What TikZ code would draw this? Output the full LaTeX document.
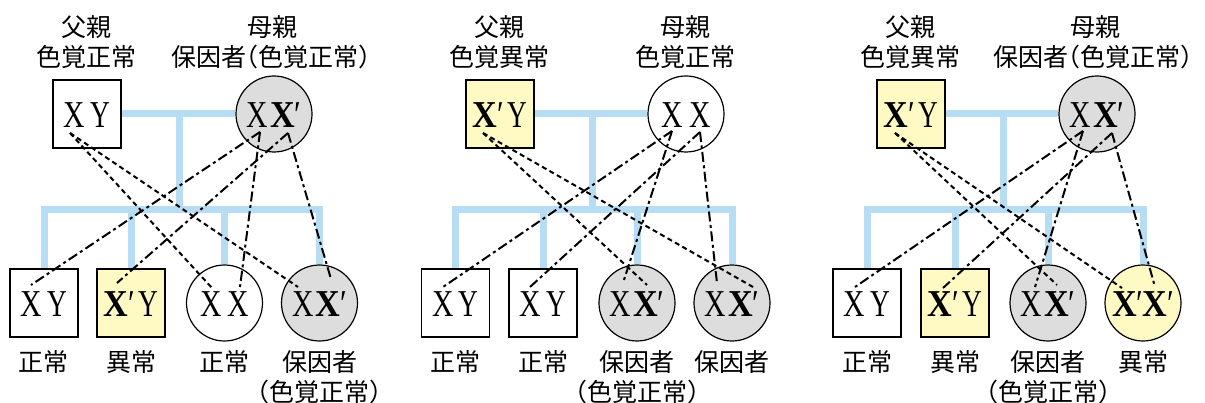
\documentclass[tikz,border=0pt]{standalone}
\usepackage{fontspec}
\usepackage{graphicx}
\usetikzlibrary{backgrounds}
\setmainfont{Liberation Serif}
\newfontfamily\jpfont[CharacterWidth=AlternateHalf]{Noto Sans CJK JP}
\definecolor{lineblue}{RGB}{183,221,245}
\definecolor{fillyellow}{RGB}{255,249,196}
\definecolor{fillgray}{RGB}{221,221,221}
\newcommand\gX{\scalebox{0.78}[1]{X}}
\newcommand\gY{\scalebox{0.72}[1]{Y}}
\newcommand\gB{\scalebox{0.9}[1]{\textbf{X}}\scalebox{0.8}[1]{′}}
\tikzset{
  gene/.style={inner sep=0pt, line width=1.2pt, draw=black, font=\fontsize{38}{40}\selectfont, text height=28pt, text depth=0pt},
  sq/.style={gene, rectangle, minimum size=68pt, fill=white},
  circ/.style={gene, circle, minimum size=76pt, fill=white},
  blueline/.style={line width=7pt, draw=lineblue, line join=miter},
  fline/.style={line width=2pt, dash pattern=on 5pt off 3.5pt},
  mline/.style={line width=2pt, dash pattern=on 10pt off 3.5pt on 3pt off 3.5pt},
  lbl/.style={font=\jpfont\fontsize{25}{30}\selectfont, inner sep=0pt, anchor=base}
}
\begin{document}
\begin{tikzpicture}[x=1pt,y=-1pt]
\useasboundingbox (0,0) rectangle (1205,403);

% ---------------- Panel 1 ----------------
\node[sq] (p1f) at (87,114) {\gX\kern5pt\gY};
\node[circ, fill=fillgray] (p1m) at (274,114) {\gX\kern2pt\gB};
\node[sq] (p1c1) at (44,303) {\gX\kern5pt\gY};
\node[sq, fill=fillyellow] (p1c2) at (131,303) {\gB\kern3pt\gY};
\node[circ] (p1c3) at (224.5,303) {\gX\kern6pt\gX};
\node[circ, fill=fillgray] (p1c4) at (319.5,303) {\gX\kern2pt\gB};
\coordinate (p1top) at (179,114);
\coordinate (p1bar) at (179,210);

% ---------------- Panel 2 ----------------
\node[sq, fill=fillyellow] (p2f) at (500,114) {\gB\kern3pt\gY};
\node[circ] (p2m) at (686,114) {\gX\kern6pt\gX};
\node[sq] (p2c1) at (455.5,303) {\gX\kern5pt\gY};
\node[sq] (p2c2) at (543,303) {\gX\kern5pt\gY};
\node[circ, fill=fillgray] (p2c3) at (637,303) {\gX\kern2pt\gB};
\node[circ, fill=fillgray] (p2c4) at (732,303) {\gX\kern2pt\gB};
\coordinate (p2top) at (592,114);
\coordinate (p2bar) at (592,210);

% ---------------- Panel 3 ----------------
\node[sq, fill=fillyellow] (p3f) at (911,114) {\gB\kern3pt\gY};
\node[circ, fill=fillgray] (p3m) at (1097,114) {\gX\kern2pt\gB};
\node[sq] (p3c1) at (867,303) {\gX\kern5pt\gY};
\node[sq, fill=fillyellow] (p3c2) at (955,303) {\gB\kern3pt\gY};
\node[circ, fill=fillgray] (p3c3) at (1048,303) {\gX\kern2pt\gB};
\node[circ, fill=fillyellow] (p3c4) at (1143,303) {\gB\kern-1pt\gB};
\coordinate (p3top) at (1003,114);
\coordinate (p3bar) at (1003,210);

% ---------------- blue pedigree lines (behind) ----------------
\begin{pgfonlayer}{background}
\foreach \p in {1,2,3}{
  \draw[blueline] (p\p f.east) -- (p\p m.west);
  \draw[blueline] (p\p top) -- (p\p bar);
  \draw[blueline] (p\p c1.north) |- (p\p bar) -| (p\p c4.north);
  \draw[blueline] (p\p c2.north) -- (p\p c2.north |- p\p bar);
  \draw[blueline] (p\p c3.north) -- (p\p c3.north |- p\p bar);
}
\end{pgfonlayer}

% ---------------- inheritance lines ----------------
% panel 1
\coordinate (p1fX) at (70,133);
\coordinate (p1mL) at (260,132);
\coordinate (p1mR) at (288,133);
\coordinate (p1c1a) at (31,285);
\coordinate (p1c2a) at (117,283);
\coordinate (p1c3a) at (212,288);
\coordinate (p1c3b) at (240,287);
\coordinate (p1c4a) at (298,287);
\coordinate (p1c4b) at (331,279);
\draw[fline] (p1fX) -- (p1c3a);
\draw[fline] (p1fX) -- (p1c4a);
\draw[mline] (p1mL) -- (p1c1a);
\draw[mline] (p1mL) -- (p1c3b);
\draw[mline] (p1mR) -- (p1c2a);
\draw[mline] (p1mR) -- (p1c4b);
% panel 2
\coordinate (p2fX) at (483,133);
\coordinate (p2mL) at (672,131);
\coordinate (p2mR) at (700,132);
\coordinate (p2c1a) at (443,287);
\coordinate (p2c2a) at (530,287);
\coordinate (p2c3a) at (623,283);
\coordinate (p2c3b) at (647,285);
\coordinate (p2c4a) at (717,283);
\coordinate (p2c4b) at (753,287);
\draw[fline] (p2fX) -- (p2c3b);
\draw[fline] (p2fX) -- (p2c4b);
\draw[mline] (p2mL) -- (p2c1a);
\draw[mline] (p2mL) -- (p2c3a);
\draw[mline] (p2mR) -- (p2c2a);
\draw[mline] (p2mR) -- (p2c4a);
% panel 3
\coordinate (p3fX) at (895,133);
\coordinate (p3mL) at (1083,131);
\coordinate (p3mR) at (1112,133);
\coordinate (p3c1a) at (855,287);
\coordinate (p3c2a) at (943,288);
\coordinate (p3c3a) at (1035,287);
\coordinate (p3c3b) at (1057,285);
\coordinate (p3c4a) at (1122,288);
\coordinate (p3c4b) at (1155,287);
\draw[fline] (p3fX) -- (p3c3b);
\draw[fline] (p3fX) -- (p3c4a);
\draw[mline] (p3mL) -- (p3c1a);
\draw[mline] (p3mL) -- (p3c3a);
\draw[mline] (p3mR) -- (p3c2a);
\draw[mline] (p3mR) -- (p3c4b);

% ---------------- labels ----------------
% panel 1
\node[lbl] (p1fl1) at (86,36.5) {父親};
\node[lbl] (p1fl2) at (86,66.5) {色覚正常};
\node[lbl] (p1ml1) at (272,36.5) {母親};
\node[lbl] (p1ml2) at (271,66.5) {保因者（色覚正常）};
\node[lbl] (p1l1) at (44,371.5) {正常};
\node[lbl] (p1l2) at (131,371.5) {異常};
\node[lbl] (p1l3) at (224.5,371.5) {正常};
\node[lbl] (p1l4) at (319.5,371.5) {保因者};
\node[lbl] (p1l4b) at (319.5,401.5) {（色覚正常）};
% panel 2
\node[lbl] (p2fl1) at (499,36.5) {父親};
\node[lbl] (p2fl2) at (499,66.5) {色覚異常};
\node[lbl] (p2ml1) at (685,36.5) {母親};
\node[lbl] (p2ml2) at (685,66.5) {色覚正常};
\node[lbl] (p2l1) at (455.5,371.5) {正常};
\node[lbl] (p2l2) at (543,371.5) {正常};
\node[lbl] (p2l3) at (637,371.5) {保因者};
\node[lbl] (p2l3b) at (637,401.5) {（色覚正常）};
\node[lbl] (p2l4) at (732,371.5) {保因者};
% panel 3
\node[lbl] (p3fl1) at (910,36.5) {父親};
\node[lbl] (p3fl2) at (910,66.5) {色覚異常};
\node[lbl] (p3ml1) at (1095,36.5) {母親};
\node[lbl] (p3ml2) at (1093,66.5) {保因者（色覚正常）};
\node[lbl] (p3l1) at (867,371.5) {正常};
\node[lbl] (p3l2) at (955,371.5) {異常};
\node[lbl] (p3l3) at (1048,371.5) {保因者};
\node[lbl] (p3l3b) at (1048,401.5) {（色覚正常）};
\node[lbl] (p3l4) at (1143,371.5) {異常};
\end{tikzpicture}
\end{document}
